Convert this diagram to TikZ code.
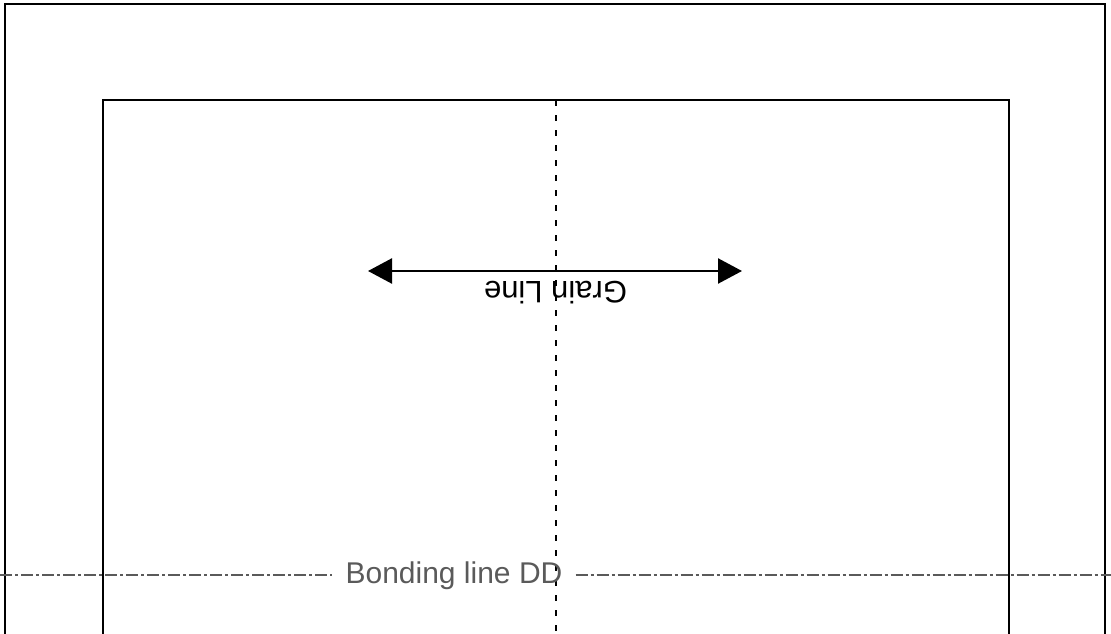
\documentclass[tikz,border=0pt]{standalone}
\usepackage{fontspec}
\setmainfont{Liberation Sans}
\usetikzlibrary{arrows.meta}
\definecolor{bondgray}{HTML}{5A5A5A}
\begin{document}
\begin{tikzpicture}[x=1pt,y=-1pt]
 \tikzset{edge/.style = {draw=black, line width=2.4pt}}
 \tikzset{fold/.style = {draw=black, line width=2.4pt, dash pattern=on 6pt off 9pt}}
 \tikzset{bond/.style = {draw=bondgray, line width=2.4pt, dash pattern=on 12pt off 3pt on 3pt off 3pt}}
 \tikzset{grain/.style = {line width=2.4pt, {Triangle[length=24pt,width=25pt]}-{Triangle[length=24pt,width=25pt]}}}
 \def\gly{271}
 \def\bly{575}

 \clip (0,0) rectangle (1111,634);

 % outer and inner outline
 \draw[edge] (5,4) rectangle (1105,660);
 \draw[edge] (103,100) rectangle (1009,660);

 % fold line
 \coordinate (F1) at (556,100);
 \coordinate (F2) at (556,660);
 \draw[fold] (F1) -- (F2);

 % grain line
 \coordinate (G1) at (368,\gly);
 \coordinate (G2) at (742,\gly);
 \draw[grain] (G1) -- (G2);
 \node[rotate=180, font=\fontsize{31}{36}\selectfont, inner sep=0pt] (grainlbl) at (555.5,293) {Grain Line};

 % bonding line
 \coordinate (B1) at (0,\bly);
 \coordinate (B2) at (1111,\bly);
 \node[text=bondgray, font=\fontsize{30}{36}\selectfont, inner xsep=13pt, inner ysep=0pt] (bondlbl) at (454,576) {Bonding line DD};
 \draw[bond] (B1) -- (bondlbl.west |- B1);
 \draw[bond] (bondlbl.east |- B2) -- (B2);

\end{tikzpicture}
\end{document}
